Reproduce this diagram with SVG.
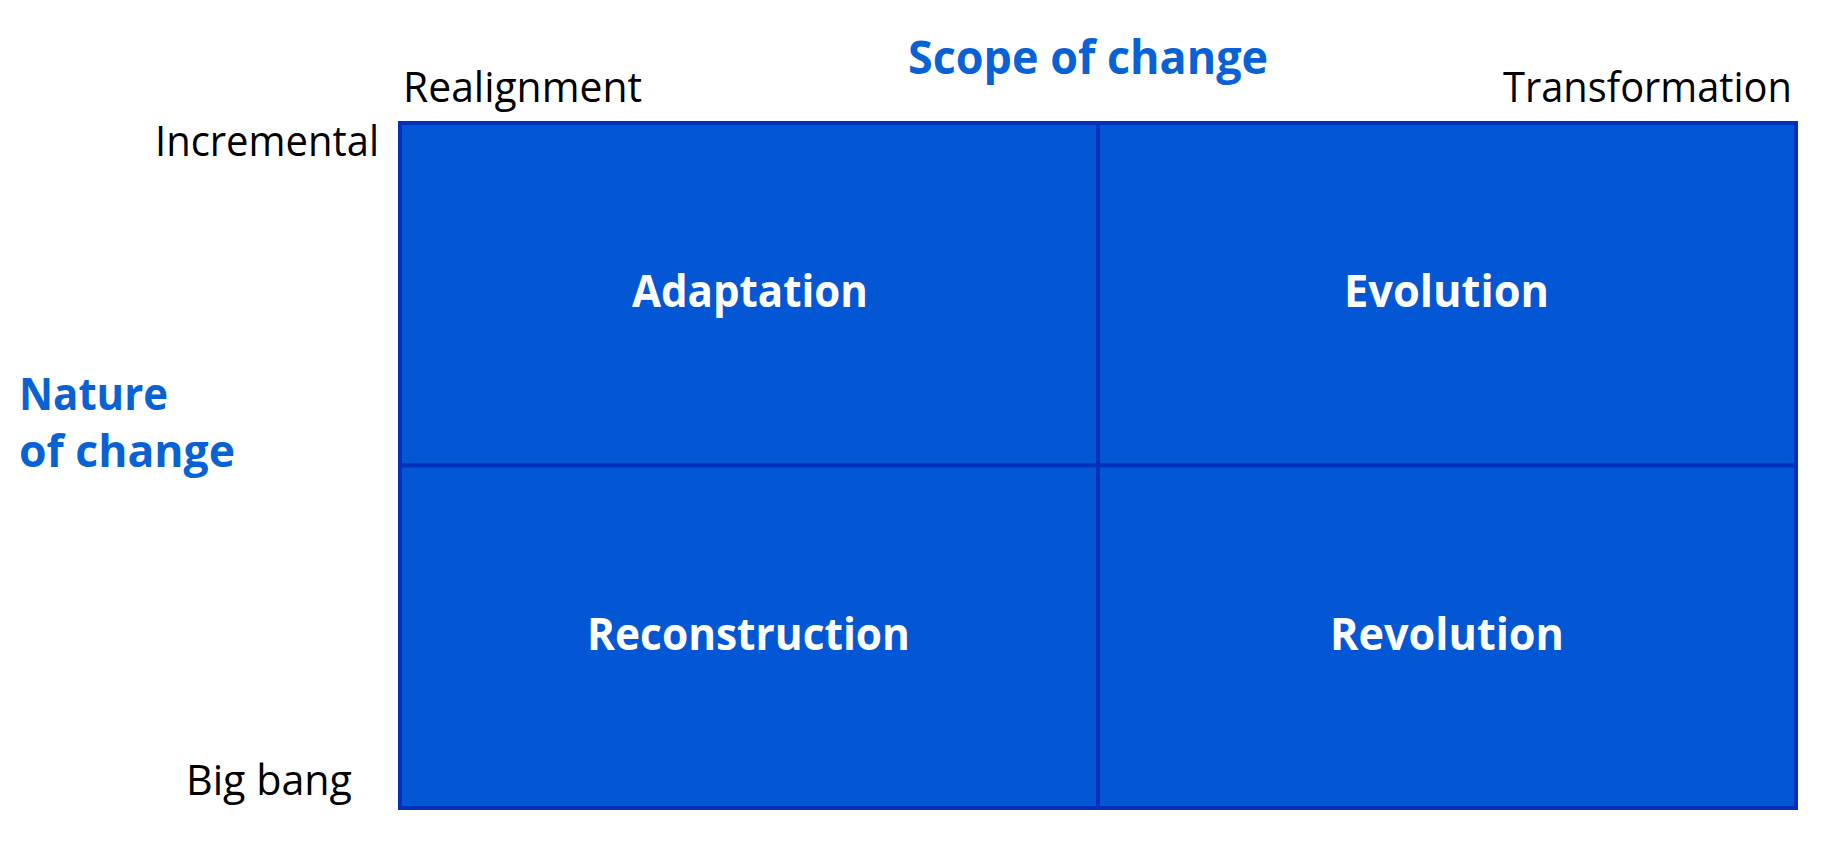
<svg xmlns="http://www.w3.org/2000/svg" width="1836" height="846" viewBox="0 0 1836 846">
<style>
.cell{fill:#0457d4;stroke:#0331bd;stroke-width:4}
.ax{font-family:"Open Sans","Liberation Sans",sans-serif;font-size:42px;fill:#000}
.ttl{font-family:"Open Sans","Liberation Sans",sans-serif;font-weight:700;fill:#0862d6}
.lbl{font-family:"Open Sans","Liberation Sans",sans-serif;font-weight:700;font-size:45px;fill:#fff}
</style>
<rect width="1836" height="846" fill="#fff"/>
<g id="titles">
<text class="ttl" x="908" y="74" font-size="46" textLength="360" lengthAdjust="spacingAndGlyphs">Scope of change</text>
<text class="ttl" x="19" y="410" font-size="44" textLength="149" lengthAdjust="spacingAndGlyphs">Nature</text>
<text class="ttl" x="19" y="467" font-size="44" textLength="216" lengthAdjust="spacingAndGlyphs">of change</text>
</g>
<g id="axis-labels">
<text class="ax" x="403" y="102" textLength="239" lengthAdjust="spacingAndGlyphs">Realignment</text>
<text class="ax" x="1503" y="102" textLength="289" lengthAdjust="spacingAndGlyphs">Transformation</text>
<text class="ax" x="155" y="156" textLength="224" lengthAdjust="spacingAndGlyphs">Incremental</text>
<text class="ax" x="186" y="795" textLength="166" lengthAdjust="spacingAndGlyphs">Big bang</text>
</g>
<g id="adaptation">
<rect class="cell" x="400" y="123" width="698" height="342.5"/>
<text class="lbl" x="632" y="307" textLength="236" lengthAdjust="spacingAndGlyphs">Adaptation</text>
</g>
<g id="evolution">
<rect class="cell" x="1098" y="123" width="698" height="342.5"/>
<text class="lbl" x="1344" y="307" textLength="205" lengthAdjust="spacingAndGlyphs">Evolution</text>
</g>
<g id="reconstruction">
<rect class="cell" x="400" y="465.5" width="698" height="342.5"/>
<text class="lbl" x="587" y="650" textLength="323" lengthAdjust="spacingAndGlyphs">Reconstruction</text>
</g>
<g id="revolution">
<rect class="cell" x="1098" y="465.5" width="698" height="342.5"/>
<text class="lbl" x="1330" y="650" textLength="234" lengthAdjust="spacingAndGlyphs">Revolution</text>
</g>
<g id="connectors"></g>
</svg>
